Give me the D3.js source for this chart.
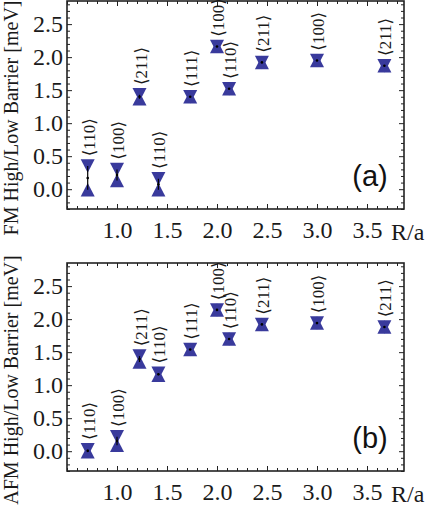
<!DOCTYPE html>
<html>
<head>
<meta charset="utf-8">
<script src="https://cdn.jsdelivr.net/npm/d3@7"></script>
<style>
  body { margin: 0; background: #fff; }
  svg { display: block; }
</style>
</head>
<body>
<div class="container"></div>
<script>
const w = 431;
const h = 512;

// neighbour shells: distance R/a and direction label
const rValues = [0.707, 1.0, 1.225, 1.414, 1.732, 2.0, 2.121, 2.449, 3.0, 3.674];
const directions = ['110', '100', '211', '110', '111', '100', '110', '211', '100', '211'];

// FM barriers [meV]
const fmHigh = [0.35, 0.30, 1.43, 0.16, 1.40, 2.16, 1.52, 1.92, 1.95, 1.87];
const fmLow = [-0.01, 0.13, 1.37, -0.01, 1.40, 2.16, 1.52, 1.92, 1.95, 1.87];

// AFM barriers [meV]
const afmHigh = [0.02, 0.22, 1.44, 1.18, 1.54, 2.14, 1.70, 1.92, 1.94, 1.88];
const afmLow = [-0.01, 0.09, 1.35, 1.15, 1.54, 2.14, 1.70, 1.92, 1.94, 1.88];

const xTickLabels = [1.0, 1.5, 2.0, 2.5, 3.0, 3.5];
const yTickLabels = [0.0, 0.5, 1.0, 1.5, 2.0, 2.5];

const markColor = '#393a9c';
const frameColor = '#222';
const serif = '"Liberation Serif", "DejaVu Serif", serif';

const frameLeft = 67;
const frameRight = 404;
const panelH = 208;

const svg = d3.select('.container')
    .append('svg')
    .attr('width', w)
    .attr('height', h);

const xScale = d3.scaleLinear().domain([0.5, 3.87]).range([frameLeft, frameRight]);

const minorX = d3.range(5, 39).map(d => d / 10).filter(d => !xTickLabels.some(t => Math.abs(t - d) < 1e-6));
const minorY = d3.range(-3, 29).map(d => d / 10).filter(d => !yTickLabels.some(t => Math.abs(t - d) < 1e-6));

function drawPanel(top, high, low, yTitle, tag) {
    const bottom = top + panelH;
    const yScale = d3.scaleLinear().domain([-0.3, 2.85]).range([bottom, top]);
    const g = svg.append('g');

    const fmt = d3.format('.1f');

    // frame ticks point inwards on all four sides, labels only left/bottom
    const left = g.append('g').attr('transform', `translate(${frameLeft},0)`);
    left.call(d3.axisLeft(yScale).tickValues(yTickLabels).tickSize(-5).tickPadding(4).tickFormat(fmt));
    left.append('g').call(d3.axisLeft(yScale).tickValues(minorY).tickSize(-3).tickFormat(''));

    const right = g.append('g').attr('transform', `translate(${frameRight},0)`);
    right.call(d3.axisRight(yScale).tickValues(yTickLabels).tickSize(-5).tickFormat(''));
    right.append('g').call(d3.axisRight(yScale).tickValues(minorY).tickSize(-3).tickFormat(''));

    const bot = g.append('g').attr('transform', `translate(0,${bottom})`);
    bot.call(d3.axisBottom(xScale).tickValues(xTickLabels).tickSize(-5).tickPadding(12).tickFormat(fmt));
    bot.append('g').call(d3.axisBottom(xScale).tickValues(minorX).tickSize(-3).tickFormat(''));

    const topAx = g.append('g').attr('transform', `translate(0,${top})`);
    topAx.call(d3.axisTop(xScale).tickValues(xTickLabels).tickSize(-5).tickFormat(''));
    topAx.append('g').call(d3.axisTop(xScale).tickValues(minorX).tickSize(-3).tickFormat(''));

    g.selectAll('.domain').remove();
    g.selectAll('.tick line').attr('stroke', frameColor).attr('stroke-width', 1);
    g.selectAll('.tick text')
        .attr('fill', '#1a1a1a')
        .style('font-family', serif)
        .style('font-size', '24px');

    g.append('rect')
        .attr('x', frameLeft)
        .attr('y', top)
        .attr('width', frameRight - frameLeft)
        .attr('height', panelH)
        .attr('fill', 'none')
        .attr('stroke', frameColor)
        .attr('stroke-width', 1.6);

    // axis titles
    g.append('text')
        .attr('x', 391)
        .attr('y', bottom + 31)
        .style('font-family', serif)
        .style('font-size', '24px')
        .attr('fill', '#1a1a1a')
        .text('R/a');

    g.append('text')
        .attr('transform', `translate(18,${top + panelH / 2 + 13}) rotate(-90)`)
        .attr('text-anchor', 'middle')
        .style('font-family', serif)
        .style('font-size', '20px')
        .attr('fill', '#1a1a1a')
        .text(yTitle);

    g.append('text')
        .attr('x', 370)
        .attr('y', bottom - 23)
        .attr('text-anchor', 'middle')
        .style('font-family', '"Liberation Sans", Arial, sans-serif')
        .style('font-size', '29px')
        .attr('fill', '#111')
        .text(tag);

    // markers: down triangle at high, up triangle at low
    const tw = 7, th = 6.75;
    const pts = rValues.map((r, i) => ({ r, hi: high[i], lo: low[i], dir: directions[i] }));
    const mk = g.selectAll('.mark').data(pts).enter().append('g').attr('class', 'mark');

    mk.append('path')
        .attr('fill', markColor)
        .attr('d', d => {
            const x = xScale(d.r), y = yScale(d.hi);
            return `M${x - tw},${y - th}L${x + tw},${y - th}L${x},${y + th}Z`;
        });
    mk.append('path')
        .attr('fill', markColor)
        .attr('d', d => {
            const x = xScale(d.r), y = yScale(d.lo);
            return `M${x - tw},${y + th}L${x + tw},${y + th}L${x},${y - th}Z`;
        });
    mk.append('line')
        .attr('x1', d => xScale(d.r))
        .attr('x2', d => xScale(d.r))
        .attr('y1', d => yScale(d.hi))
        .attr('y2', d => yScale(d.lo))
        .attr('stroke', '#000')
        .attr('stroke-width', 1.2);
    mk.append('circle')
        .attr('cx', d => xScale(d.r))
        .attr('cy', d => (yScale(d.hi) + yScale(d.lo)) / 2)
        .attr('r', 1.3)
        .attr('fill', '#000');

    mk.append('text')
        .attr('transform', d => `translate(${xScale(d.r) + 7},${yScale(d.hi) - th - 3}) rotate(-90)`)
        .style('font-family', serif)
        .style('font-size', '17px')
        .attr('fill', '#1a1a1a')
        .text(d => `\u27E8${d.dir}\u27E9`);
}

drawPanel(1, fmHigh, fmLow, 'FM High/Low Barrier [meV]', '(a)');
drawPanel(263, afmHigh, afmLow, 'AFM High/Low Barrier [meV]', '(b)');
</script>
</body>
</html>
